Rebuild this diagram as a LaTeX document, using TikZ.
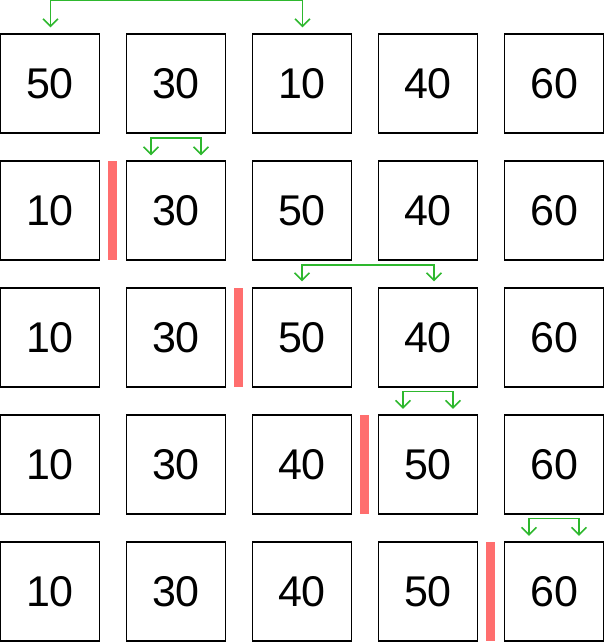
\documentclass[tikz,border=0pt]{standalone}
\usepackage{fontspec}
\setmainfont{Liberation Sans}
\usetikzlibrary{arrows.meta}
\definecolor{gr}{RGB}{46,184,46}
\definecolor{rd}{RGB}{255,110,110}
\begin{document}
\begin{tikzpicture}[x=1pt,y=1pt,
  box/.style={draw, line width=1.3pt, minimum width=99pt, minimum height=99pt, inner sep=0pt, font=\fontsize{43}{43}\selectfont},
  bar/.style={fill=rd, draw=none, minimum width=8.6pt, minimum height=99.5pt, inner sep=0pt},
  garr/.style={draw=gr, line width=1.5pt, {Straight Barb[length=7.5pt,width=15pt]}-{Straight Barb[length=7.5pt,width=15pt]}}]
\useasboundingbox (0,0) rectangle (604,-642);
\foreach \r/\vals in {1/{50,30,10,40,60},2/{10,30,50,40,60},3/{10,30,50,40,60},4/{10,30,40,50,60},5/{10,30,40,50,60}}{
  \foreach \v [count=\c] in \vals {
    \node[box] (b\r\c) at ({50+126*(\c-1)},{-83.5-127*(\r-1)}) {\v};
  }
}
\node[bar] (r2) at (112.3,-210.5) {};
\node[bar] (r3) at (238.3,-337.5) {};
\node[bar] (r4) at (364.5,-464.5) {};
\node[bar] (r5) at (490.5,-591.5) {};
\draw[garr] ([xshift=0.5pt,yshift=6pt]b11.north) -- ++(0,27) -| ([xshift=0.5pt,yshift=6pt]b13.north);
\draw[garr] ([xshift=-25pt,yshift=5pt]b22.north) -- ++(0,17.5) -| ([xshift=25pt,yshift=5pt]b22.north);
\draw[garr] ([yshift=6pt]b33.north) -- ++(0,16.5) -| ([xshift=6pt,yshift=6pt]b34.north);
\draw[garr] ([xshift=-25pt,yshift=5.5pt]b44.north) -- ++(0,17.5) -| ([xshift=25pt,yshift=5.5pt]b44.north);
\draw[garr] ([xshift=-25pt,yshift=5.5pt]b55.north) -- ++(0,17.5) -| ([xshift=25pt,yshift=5.5pt]b55.north);
\end{tikzpicture}
\end{document}
